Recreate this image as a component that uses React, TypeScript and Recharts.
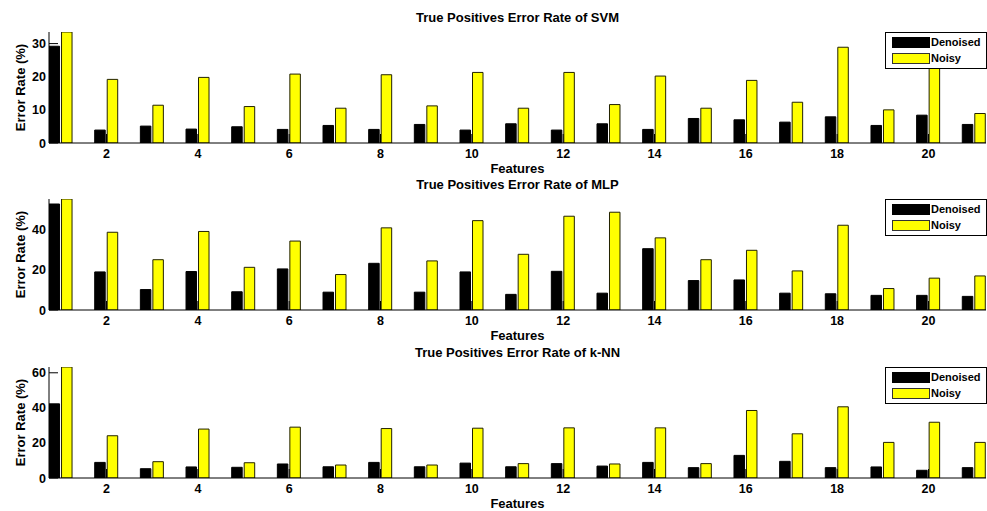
import React from "react";
import { BarChart, Bar, XAxis, YAxis, Legend } from "recharts";

const features = [1, 2, 3, 4, 5, 6, 7, 8, 9, 10, 11, 12, 13, 14, 15, 16, 17, 18, 19, 20, 21];
const xTicks = [2, 4, 6, 8, 10, 12, 14, 16, 18, 20];

const svmDenoised = [29.2, 3.9, 5.1, 4.2, 4.9, 4.1, 5.3, 4.1, 5.6, 3.9, 5.8, 3.9, 5.8, 4.1, 7.4, 7.0, 6.3, 7.9, 5.3, 8.4, 5.6];
const svmNoisy = [33.5, 19.2, 11.4, 19.8, 11.0, 20.8, 10.5, 20.6, 11.2, 21.3, 10.5, 21.3, 11.6, 20.2, 10.5, 18.9, 12.3, 28.9, 10.0, 24.0, 8.9];
const svmTicks = [0, 10, 20, 30];

const mlpDenoised = [52.9, 19.0, 10.2, 19.2, 9.1, 20.5, 8.9, 23.3, 8.9, 19.0, 7.8, 19.3, 8.4, 30.6, 14.7, 15.0, 8.4, 8.1, 7.3, 7.3, 6.8];
const mlpNoisy = [55.4, 38.8, 25.1, 39.2, 21.3, 34.4, 17.7, 41.0, 24.5, 44.6, 27.8, 46.8, 48.8, 36.0, 25.1, 29.8, 19.5, 42.3, 10.7, 15.9, 17.0];
const mlpTicks = [0, 20, 40];

const knnDenoised = [42.3, 8.9, 5.3, 6.3, 6.1, 8.0, 6.4, 8.9, 6.4, 8.5, 6.4, 8.2, 6.8, 8.9, 5.9, 12.9, 9.5, 5.9, 6.3, 4.4, 5.9];
const knnNoisy = [63.3, 24.1, 9.3, 27.9, 8.7, 29.0, 7.4, 28.2, 7.4, 28.4, 8.2, 28.6, 8.0, 28.6, 8.2, 38.5, 25.2, 40.6, 20.3, 31.8, 20.3];
const knnTicks = [0, 20, 40, 60];

const FONT = '"Liberation Sans", Arial, Helvetica, sans-serif';
const TICK_LEN = 9;

const BottomTick = (props: any) => {
  const { x, y, payload } = props;
  return (
    <g>
      <line x1={x} y1={y} x2={x} y2={y - TICK_LEN} stroke="#000" />
      <text x={x} y={y + 15} textAnchor="middle" fontFamily={FONT} fontWeight="bold" fontSize={12.5} fill="#000">
        {payload.value}
      </text>
    </g>
  );
};

const TopTick = (props: any) => {
  const { x, y } = props;
  return <line x1={x} y1={y} x2={x} y2={y + TICK_LEN} stroke="#000" />;
};

const LeftTick = (props: any) => {
  const { x, y, payload } = props;
  return (
    <g>
      <line x1={x} y1={y} x2={x + TICK_LEN} y2={y} stroke="#000" />
      <text x={x - 3} y={y} dy="0.36em" textAnchor="end" fontFamily={FONT} fontWeight="bold" fontSize={12.5} fill="#000">
        {payload.value}
      </text>
    </g>
  );
};

const RightTick = (props: any) => {
  const { x, y } = props;
  return <line x1={x} y1={y} x2={x - TICK_LEN} y2={y} stroke="#000" />;
};

const YLabel = (props: any) => {
  const vb = props.viewBox;
  const cy = vb.y + vb.height / 2;
  return (
    <text
      x={20}
      y={cy}
      transform={`rotate(-90, 20, ${cy})`}
      textAnchor="middle"
      dominantBaseline="central"
      fontFamily={FONT}
      fontWeight="bold"
      fontSize={13}
      fill="#000"
    >
      Error Rate (%)
    </text>
  );
};

const XLabel = (props: any) => {
  const vb = props.viewBox;
  return (
    <text x={vb.x + vb.width / 2} y={vb.y + 29.5} textAnchor="middle" fontFamily={FONT} fontWeight="bold" fontSize={13} fill="#000">
      Features
    </text>
  );
};

const LegendBox = () => (
  <div
    style={{
      boxSizing: "border-box",
      width: 102,
      height: 37,
      border: "1px solid #000",
      background: "#fff",
      position: "relative",
      fontFamily: FONT,
      fontWeight: "bold",
      fontSize: 11,
      color: "#000",
    }}
  >
    <div style={{ position: "absolute", left: 6, top: 3.5, width: 36, height: 9, background: "#000", border: "1px solid #000" }} />
    <span style={{ position: "absolute", left: 45, top: 2.5, lineHeight: "13px" }}>Denoised</span>
    <div style={{ position: "absolute", left: 6, top: 20, width: 36, height: 9, background: "#ffff00", border: "1px solid #333" }} />
    <span style={{ position: "absolute", left: 45, top: 19, lineHeight: "13px" }}>Noisy</span>
  </div>
);

function Panel(props: { title: string; top: number; denoised: number[]; noisy: number[]; yTicks: number[] }) {
  const data = features.map((f, i) => ({ feature: f, denoised: props.denoised[i], noisy: props.noisy[i] }));
  const yMax = Math.max(...props.denoised, ...props.noisy);
  const xDomain = [0.74, 21.26];
  return (
    <div style={{ position: "absolute", left: 0, top: props.top, width: 987, height: 175 }}>
      <div
        style={{
          position: "absolute",
          left: 49,
          top: 9,
          width: 937,
          height: 17,
          lineHeight: "17px",
          textAlign: "center",
          fontFamily: FONT,
          fontWeight: "bold",
          fontSize: 13,
          color: "#000",
        }}
      >
        {props.title}
      </div>
      <BarChart
        width={987}
        height={175}
        data={data}
        margin={{ top: 32, right: 1, bottom: 0, left: 0 }}
        barGap={2}
        barSize={10.5}
      >
        <XAxis
          dataKey="feature"
          type="number"
          domain={xDomain}
          allowDataOverflow
          ticks={xTicks}
          interval={0}
          height={32}
          tickSize={0}
          tickMargin={0}
          tickLine={false}
          axisLine={{ stroke: "#000" }}
          tick={<BottomTick />}
          label={<XLabel />}
        />
        <XAxis
          xAxisId="top"
          orientation="top"
          dataKey="feature"
          type="number"
          domain={xDomain}
          allowDataOverflow
          ticks={xTicks}
          interval={0}
          height={0}
          tickSize={0}
          tickMargin={0}
          tickLine={false}
          axisLine={{ stroke: "#000" }}
          tick={<TopTick />}
        />
        <YAxis
          type="number"
          domain={[0, yMax]}
          allowDataOverflow
          ticks={props.yTicks}
          interval={0}
          width={49}
          tickSize={0}
          tickMargin={0}
          tickLine={false}
          axisLine={{ stroke: "#000" }}
          tick={<LeftTick />}
          label={<YLabel />}
        />
        <YAxis
          yAxisId="right"
          orientation="right"
          type="number"
          domain={[0, yMax]}
          allowDataOverflow
          ticks={props.yTicks}
          interval={0}
          width={0}
          tickSize={0}
          tickMargin={0}
          tickLine={false}
          axisLine={{ stroke: "#000" }}
          tick={<RightTick />}
        />
        <Bar dataKey="denoised" name="Denoised" fill="#000000" stroke="#000000" strokeWidth={1} isAnimationActive={false} />
        <Bar dataKey="noisy" name="Noisy" fill="#ffff00" stroke="#222200" strokeWidth={1} isAnimationActive={false} />
        <Legend
          layout="horizontal"
          verticalAlign="middle"
          align="center"
          wrapperStyle={{ left: 885, top: 32, width: 102, height: 37 }}
          content={() => <LegendBox />}
        />
      </BarChart>
    </div>
  );
}

export default function App() {
  return (
    <div style={{ position: "absolute", left: 0, top: 0, width: 987, height: 511, background: "#fff", overflow: "hidden" }}>
      <Panel title="True Positives Error Rate of SVM" top={0} denoised={svmDenoised} noisy={svmNoisy} yTicks={svmTicks} />
      <Panel title="True Positives Error Rate of MLP" top={167} denoised={mlpDenoised} noisy={mlpNoisy} yTicks={mlpTicks} />
      <Panel title="True Positives Error Rate of k-NN" top={335} denoised={knnDenoised} noisy={knnNoisy} yTicks={knnTicks} />
    </div>
  );
}
